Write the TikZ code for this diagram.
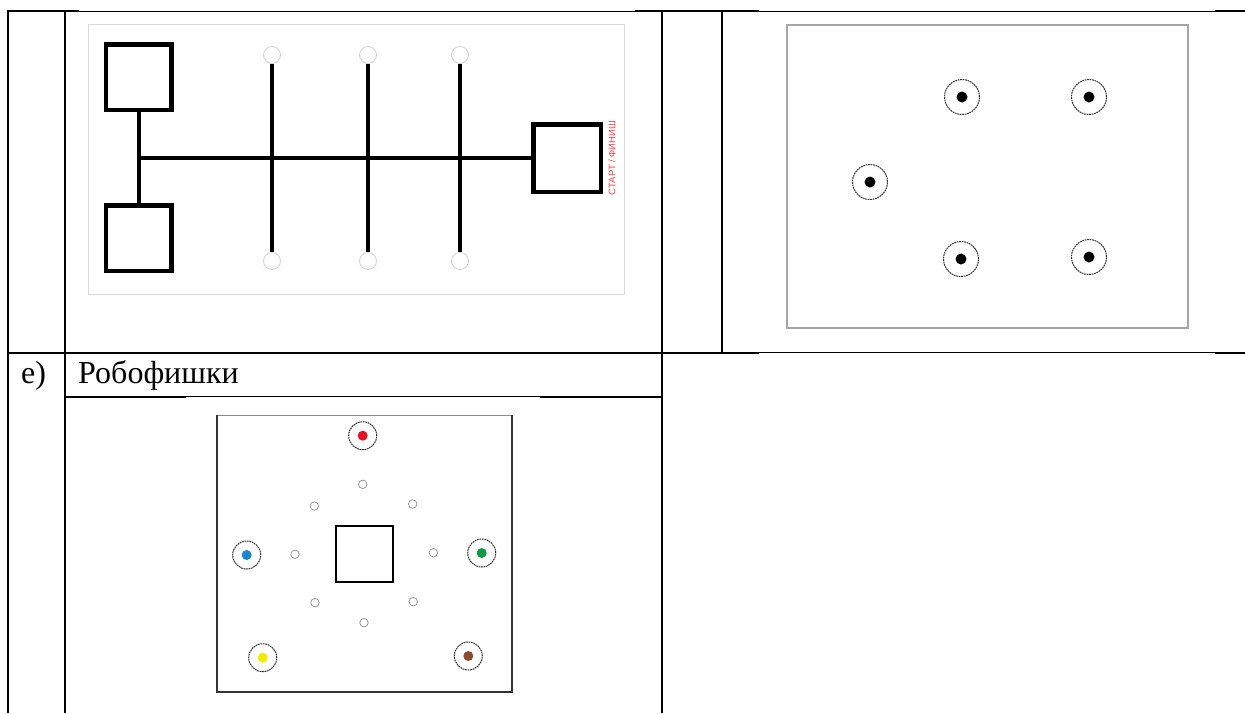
\documentclass[tikz,border=0pt]{standalone}
\usepackage{fontspec}
\setmainfont{Liberation Serif}
\newfontfamily\sansf{Liberation Sans}
\definecolor{mkred}{RGB}{228,20,30}
\definecolor{mkblue}{RGB}{26,134,208}
\definecolor{mkgreen}{RGB}{10,154,72}
\definecolor{mkyellow}{RGB}{245,234,0}
\definecolor{mkbrown}{RGB}{138,75,50}
\definecolor{lblred}{RGB}{236,70,70}
\begin{document}
\begin{tikzpicture}[x=1pt,y=-1pt,
  gridthick/.style={line width=2pt},
  gridthin/.style={line width=0.9pt},
  field/.style={draw=black!15, line width=1pt},
  basebox/.style={draw, line width=4.5pt, minimum width=#1, minimum height=#1, inner sep=0pt},
  track/.style={line width=4pt},
  endpt/.style={circle, draw=black!18, line width=0.8pt, minimum size=17pt, inner sep=0pt},
  target/.style={circle, draw=black!80, dash pattern=on 1.8pt off 0.7pt, line width=1pt, minimum size=#1, inner sep=0pt},
  chip/.style={circle, fill=#1, minimum size=10pt, inner sep=0pt},
  hole/.style={circle, draw=black!45, line width=0.7pt, minimum size=8.5pt, inner sep=0pt},
  celltext/.style={anchor=base west, inner sep=0pt, font=\fontsize{32}{32}\selectfont},
]
\useasboundingbox (0,0) rectangle (1245,713);
\fill[white] (0,0) rectangle (1245,713);

% ---------- table rules ----------
\draw[gridthick] (7,11) -- (79,11);
\draw[gridthin]  (79,11) -- (635,11);
\draw[gridthick] (635,11) -- (759,11);
\draw[gridthin]  (759,11) -- (1215,11);
\draw[gridthick] (1215,11) -- (1245,11);

\draw[gridthick] (7,352.5) -- (759,352.5);
\draw[gridthin]  (759,352.5) -- (1215,352.5);
\draw[gridthick] (1215,352.5) -- (1245,352.5);

\draw[gridthick] (64.5,396.5) -- (186,396.5);
\draw[gridthin]  (186,396.5) -- (540,396.5);
\draw[gridthick] (540,396.5) -- (662,396.5);

\draw[gridthick] (8,10) -- (8,713);
\draw[gridthick] (64.5,10) -- (64.5,713);
\draw[gridthick] (662,10) -- (662,713);
\draw[gridthick] (722,10) -- (722,353.5);

% ---------- top-left: line track ----------
\draw[field] (88,24) rectangle (624,294);
\node[basebox=65.5pt] (tl) at (138.5,77) {};
\node[basebox=65.5pt] (bl) at (138.5,238) {};
\node[basebox=67.5pt] (rs) at (567,158) {};
\coordinate (hub) at (138.5,158);
\draw[track] (tl.south) -- (bl.north);
\draw[track] (hub) -- (rs.west);
\foreach \i/\x in {1/272,2/368,3/460}{
  \node[endpt] (up\i) at (\x,55) {};
  \node[endpt] (dn\i) at (\x,261) {};
  \draw[track] (up\i.south) -- (dn\i.north);
}
\node[rotate=90, text=lblred, inner sep=0pt, font=\sansf\fontsize{9.5}{9.5}\selectfont] (start) at (612,158) {СТАРТ / ФИНИШ};

% ---------- top-right: targets ----------
\draw[draw=black!35, line width=1.2pt] (787,25) rectangle (1188,328);
\foreach \n/\x/\y in {a/962/97, b/1089/97, c/870/182, d/961/259, e/1089/257}{
  \node[target=35pt] (t\n) at (\x,\y) {};
  \node[chip=black, minimum size=11pt] (d\n) at (\x,\y) {};
}

% ---------- bottom row ----------
\node[celltext] (lbl) at (21,383) {е)};
\node[celltext] (title) at (78,383) {Робофишки};

\draw[black!45, line width=1pt] (217,415) -- (512,415);
\draw[black!80, line width=1.4pt] (217,415) -- (217,692) -- (512,692) -- (512,415);
\node[draw, line width=2pt, minimum width=57pt, minimum height=56pt, inner sep=0pt] (ctr) at (364.5,554) {};
\foreach \n/\c/\x/\y in {r/mkred/362.7/435.7, b/mkblue/246.7/555, g/mkgreen/481.7/553, y/mkyellow/262.7/657.7, o/mkbrown/468.3/656}{
  \node[target=28pt] (s\n) at (\x,\y) {};
  \node[chip=\c] (c\n) at (\x,\y) {};
}
\foreach \i/\x/\y in {1/362.7/484.3, 2/314.3/506, 3/412.7/504, 4/295/554.3, 5/433.3/552.7, 6/315/602.7, 7/413.3/601.7, 8/364/622.7}{
  \node[hole] (h\i) at (\x,\y) {};
}
\end{tikzpicture}
\end{document}
